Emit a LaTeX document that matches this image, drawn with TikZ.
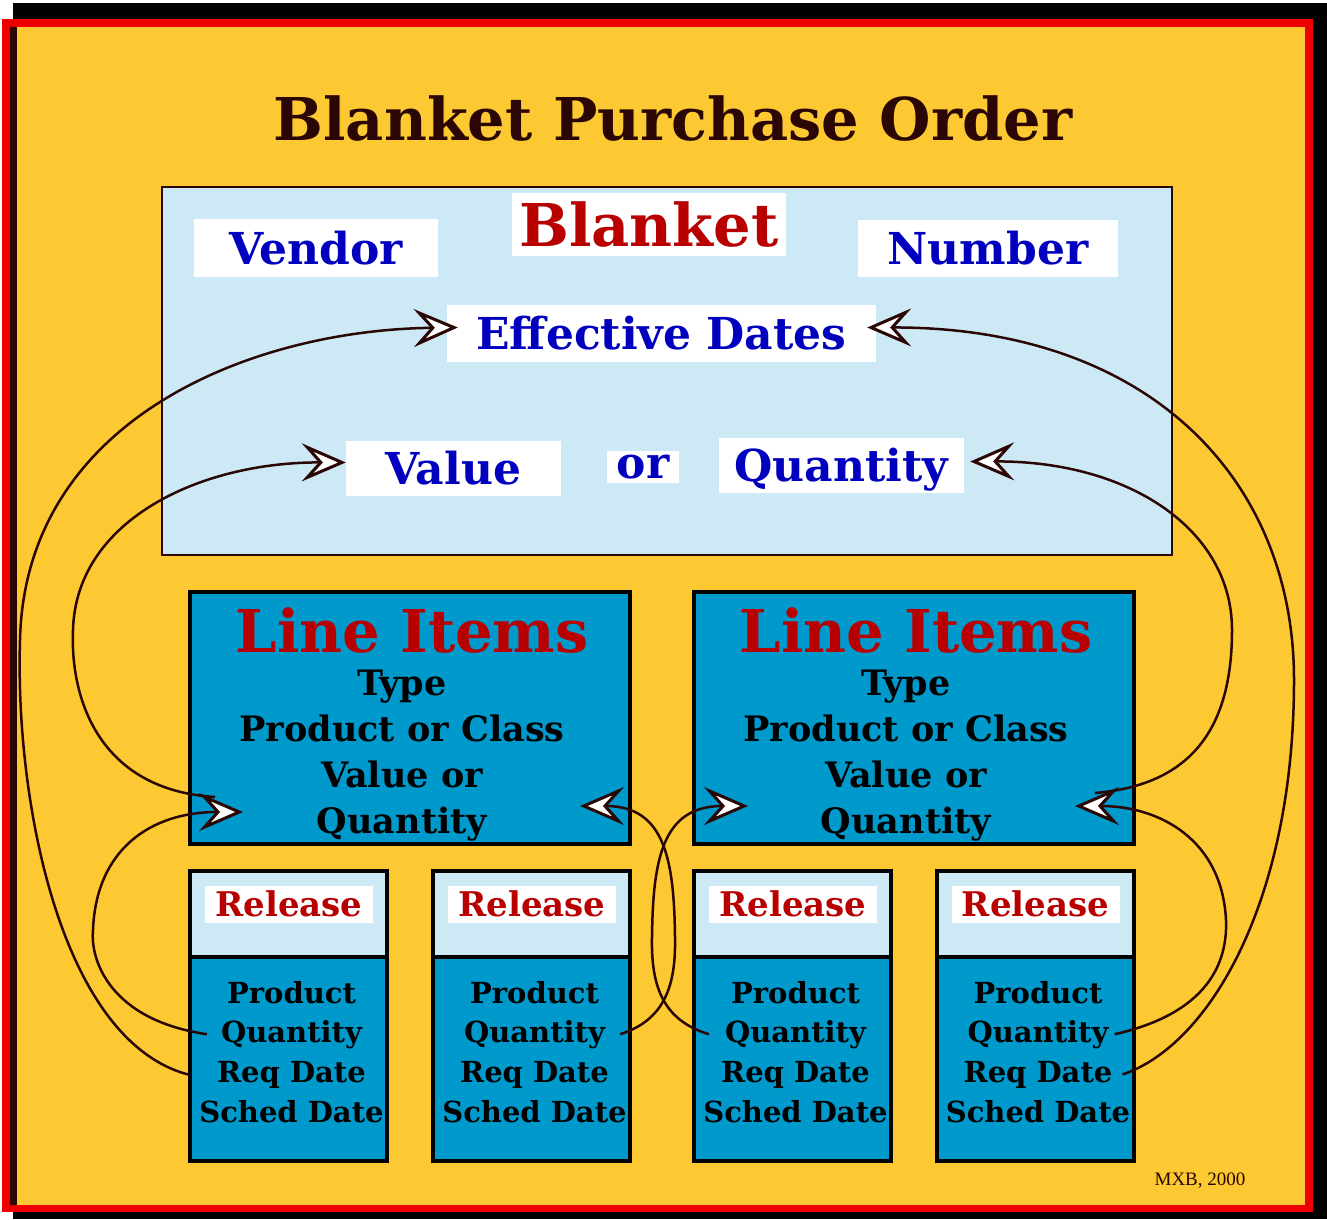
\documentclass[tikz,border=0pt]{standalone}
\usepackage{fontspec}
\setmainfont{DejaVu Serif}
\newfontfamily\creditfamily{Liberation Serif}
\usepackage{tikz}
\usetikzlibrary{
  arrows.meta,
  calc,
  positioning
}
\definecolor{bpoyellow}{RGB}{253,201,50}
\definecolor{framered}{RGB}{238,0,0}
\definecolor{inkbrown}{RGB}{42,6,4}
\definecolor{skyblue}{RGB}{205,233,245}
\definecolor{itemblue}{RGB}{0,153,204}
\definecolor{fieldblue}{RGB}{0,0,190}
\definecolor{headred}{RGB}{185,0,0}
\newcommand\bpotitlefont{\fontsize{59}{60}\selectfont\bfseries}
\newcommand\bpofieldfont{\fontsize{44}{46}\selectfont\bfseries}
\newcommand\bpoitemfont{\fontsize{35}{46}\selectfont\bfseries}
\newcommand\bporelheadfont{\fontsize{34}{36}\selectfont\bfseries}
\newcommand\bporelfont{\fontsize{29}{30}\selectfont\bfseries}
\tikzset{
  titletext/.style={anchor=base,text=inkbrown,font=\bpotitlefont,inner sep=0pt},
  blanketbox/.style={draw=inkbrown,line width=2pt,fill=skyblue,
    minimum width=1010pt,minimum height=368pt},
  fieldlab/.style={fill=white,text=fieldblue,font=\bpofieldfont,
    text height=32pt,text depth=0pt,inner sep=0pt},
  itembox/.style={draw=black,line width=4pt,fill=itemblue,
    minimum width=440pt,minimum height=252pt},
  itemhead/.style={anchor=base,text=headred,font=\bpotitlefont,inner sep=0pt},
  itemtext/.style={anchor=north,align=center,font=\bpoitemfont,inner sep=0pt},
  relhead/.style={draw=black,line width=4pt,fill=skyblue,
    minimum width=197pt,minimum height=86pt,outer sep=0pt},
  relbody/.style={draw=black,line width=4pt,fill=itemblue,
    minimum width=197pt,minimum height=204pt,outer sep=0pt},
  rellab/.style={fill=white,text=headred,font=\bporelheadfont,
    minimum width=168pt,minimum height=37pt,
    text height=25pt,text depth=0pt,inner sep=0pt},
  reltext/.style={anchor=base,font=\bporelfont,inner sep=0pt},
  credit/.style={text=inkbrown,font=\creditfamily\fontsize{19}{20}\selectfont},
  flow/.style={draw=inkbrown,line width=2.5pt,
    -{Stealth[length=44pt,width=38pt,inset=17pt,fill=white,line width=3pt]}}
}
\begin{document}
\begin{tikzpicture}[x=1pt,y=-1pt]
  \useasboundingbox (0,0) rectangle (1327,1219);
  % frame
  \fill[black] (13,3) rectangle (1327,1219);
  \fill[framered] (2,19) rectangle (1313,1212);
  \fill[inkbrown] (10,27) rectangle (1305,1205);
  \fill[bpoyellow] (17,27) rectangle (1305,1205);
  \node[titletext] (title) at (673,140) {Blanket Purchase Order};
  % blanket header
  \node[blanketbox] (blanket) at (667,371) {};
  \node[fieldlab,text=headred,font=\bpotitlefont,text height=43pt,
    minimum width=274pt,minimum height=63pt] (blk) at (649,224.5) {Blanket};
  \node[fieldlab,minimum width=244pt,minimum height=58pt] (vendor) at (316,248) {Vendor};
  \node[fieldlab,minimum width=260pt,minimum height=57pt] (number) at (988,248.5) {Number};
  \node[fieldlab,minimum width=429pt,minimum height=57pt] (eff) at (661.5,333.5) {Effective Dates};
  \node[fieldlab,minimum width=215pt,minimum height=55pt] (val) at (453.5,468.5) {Value};
  \node[fieldlab,minimum width=72pt,minimum height=32pt,text height=22pt] (or) at (643,467) {or};
  \node[fieldlab,minimum width=245pt,minimum height=55pt] (qua) at (841.5,465.5) {Quantity};
  % line items
  \foreach \i/\x in {1/410,2/914}{
    \node[itembox] (item\i) at (\x,718) {};
    \node[itemhead] (ihead\i) at (\x+2,652) {Line Items};
    \node[itemtext] (itxt\i) at (\x-8,669.5) {Type\\Product or Class\\Value or\\Quantity};
  }
  \coordinate (li1in) at (243,812);
  \coordinate (li1out) at (580,806);
  \coordinate (li1tail) at (215,797);
  \coordinate (li2in) at (748,806);
  \coordinate (li2out) at (1075,806);
  \coordinate (li2tail) at (1095,793);
  % releases
  \foreach \i/\x in {1/288.5,2/531.5,3/792.5,4/1035}{
    \node[relhead] (head\i) at (\x,914) {};
    \node[relbody,below=0pt of head\i] (body\i) {};
    \node[rellab] (rel\i) at (\x+0.5,904) {Release};
    \foreach \txt/\nm/\yy in {Product/prod/1003,Quantity/qty/1042,Req Date/req/1082,Sched Date/sched/1122}
      \node[reltext] (\nm\i) at (\x+3,\yy) {\txt};
  }
  \node[credit] (mxb) at (1200,1181) {MXB, 2000};
  % links
  \draw[flow] ([xshift=-29pt]req1.west) .. controls (60,1040) and (15,800) .. (20,640)
    .. controls (25,420) and (250,330) .. ([xshift=11pt,yshift=6pt]eff.west);
  \draw[flow] (li1tail) .. controls (100,790) and (70,700) .. (73,630)
    .. controls (76,520) and (200,462) .. ([yshift=6pt]val.west);
  \draw[flow] ([xshift=-14pt]qty1.west) .. controls (110,1020) and (90,960) .. (93,930)
    .. controls (96,850) and (150,812) .. (li1in);
  \draw[flow] ([xshift=15pt]qty2.east) .. controls (665,1020) and (676,985) .. (675,937)
    .. controls (674,860) and (665,806) .. (li1out);
  \draw[flow] ([xshift=-16pt]qty3.west) .. controls (662,1020) and (651,985) .. (652,937)
    .. controls (653,860) and (662,806) .. (li2in);
  \draw[flow] ([xshift=6pt]qty4.east) .. controls (1200,1015) and (1228,970) .. (1226,920)
    .. controls (1222,840) and (1160,806) .. (li2out);
  \draw[flow] (li2tail) .. controls (1190,785) and (1232,730) .. (1232,630)
    .. controls (1232,530) and (1130,461) .. ([xshift=6pt,yshift=4pt]qua.east);
  \draw[flow] ([xshift=10pt]req4.east) .. controls (1210,1045) and (1294,900) .. (1294,680)
    .. controls (1294,480) and (1150,327) .. ([xshift=-9pt,yshift=6pt]eff.east);
\end{tikzpicture}
\end{document}
